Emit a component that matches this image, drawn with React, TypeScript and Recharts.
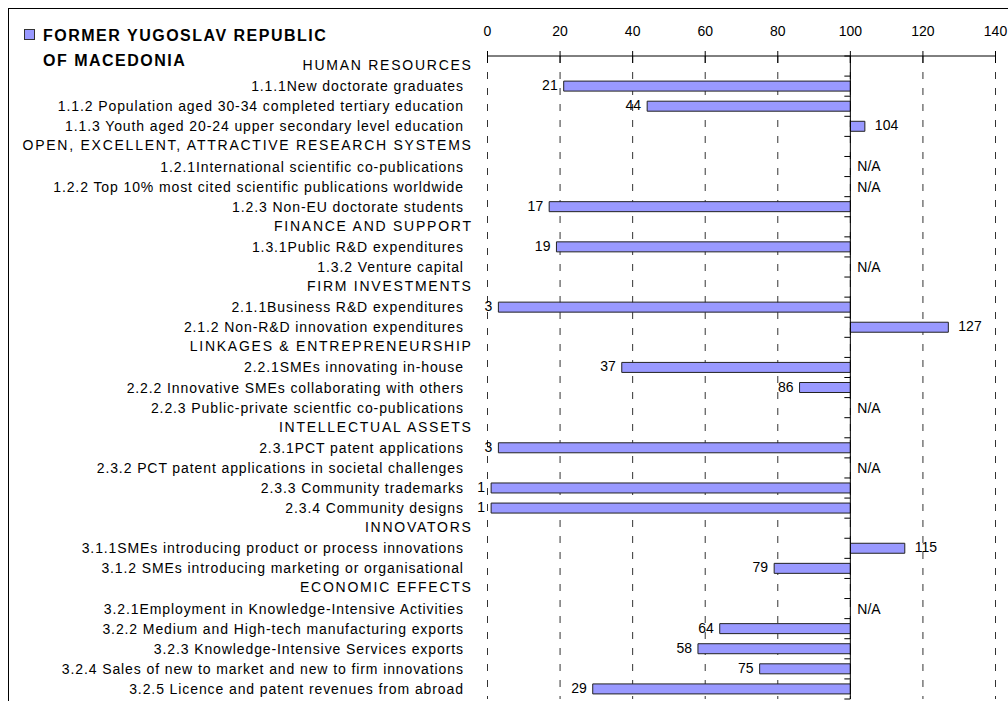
import { Bar, BarChart, CartesianGrid, LabelList, ReferenceDot, ReferenceLine, XAxis, YAxis } from 'recharts';

// country shown in the legend box (two lines, as in the original)
const countryLines = ['FORMER YUGOSLAV REPUBLIC', 'OF MACEDONIA'];

// section headers of the scoreboard
const headers = [
  'HUMAN RESOURCES',
  'OPEN, EXCELLENT, ATTRACTIVE RESEARCH SYSTEMS',
  'FINANCE AND SUPPORT',
  'FIRM INVESTMENTS',
  'LINKAGES & ENTREPRENEURSHIP',
  'INTELLECTUAL ASSETS',
  'INNOVATORS',
  'ECONOMIC EFFECTS',
];

// all rows top to bottom
const indicators = [
  'HUMAN RESOURCES',
  '1.1.1New doctorate graduates',
  '1.1.2 Population aged 30-34 completed tertiary education',
  '1.1.3 Youth aged 20-24 upper secondary level education',
  'OPEN, EXCELLENT, ATTRACTIVE RESEARCH SYSTEMS',
  '1.2.1International scientific co-publications',
  '1.2.2 Top 10% most cited scientific publications worldwide',
  '1.2.3 Non-EU doctorate students',
  'FINANCE AND SUPPORT',
  '1.3.1Public R&D expenditures',
  '1.3.2 Venture capital',
  'FIRM INVESTMENTS',
  '2.1.1Business R&D expenditures',
  '2.1.2 Non-R&D innovation expenditures',
  'LINKAGES & ENTREPRENEURSHIP',
  '2.2.1SMEs innovating in-house',
  '2.2.2 Innovative SMEs collaborating with others',
  '2.2.3 Public-private scientfic co-publications',
  'INTELLECTUAL ASSETS',
  '2.3.1PCT patent applications',
  '2.3.2 PCT patent applications in societal challenges',
  '2.3.3 Community trademarks',
  '2.3.4 Community designs',
  'INNOVATORS',
  '3.1.1SMEs introducing product or process innovations',
  '3.1.2 SMEs introducing marketing or organisational',
  'ECONOMIC EFFECTS',
  '3.2.1Employment in Knowledge-Intensive Activities',
  '3.2.2 Medium and High-tech manufacturing exports',
  '3.2.3 Knowledge-Intensive Services exports',
  '3.2.4 Sales of new to market and new to firm innovations',
  '3.2.5 Licence and patent revenues from abroad',
];

// relative to EU = 100; null on header rows and N/A rows
const scores: (number | null)[] = [
  null, 21, 44, 104,
  null, null, null, 17,
  null, 19, null,
  null, 3, 127,
  null, 37, 86, null,
  null, 3, null, 1, 1,
  null, 115, 79,
  null, null, 64, 58, 75, 29,
];

const xTicks = [0, 20, 40, 60, 80, 100, 120, 140];
const EU = 100;

const rows = indicators.map((name, i) => {
  const v = scores[i];
  return {
    name,
    score: v,
    range: v == null ? undefined : [Math.min(v, EU), Math.max(v, EU)],
  };
});
const naRows = indicators.filter((n, i) => scores[i] == null && !headers.includes(n));

const FONT = "'Liberation Sans', Arial, sans-serif";
const W = 999;
const H = 692;
const Y_W = 478.5;
const M_TOP = 17;
const X_H = 30;
const M_RIGHT = 12.5;
const M_BOTTOM = 2;
const PLOT_TOP = M_TOP + X_H;
const PLOT_W = W - Y_W - M_RIGHT;
const BAND = (H - PLOT_TOP - M_BOTTOM) / indicators.length;
const X_EU = Y_W + (EU / 140) * PLOT_W;

const TopTick = (p: any) => (
  <g>
    <line x1={p.x} x2={p.x} y1={PLOT_TOP - 5} y2={PLOT_TOP + 7} stroke="#000" />
    <text x={p.x} y={PLOT_TOP - 20} textAnchor="middle" fontSize={14} fontFamily={FONT} fill="#000">
      {p.payload.value}
    </text>
  </g>
);

const RowTick = (p: any) => {
  const label = p.payload.value;
  const header = headers.includes(label);
  const last = label === indicators[indicators.length - 1];
  return (
    <g>
      <text
        x={header ? 463.7 : 454.9}
        y={p.y + (header ? 4 : 5)}
        textAnchor="end"
        fontSize={14}
        letterSpacing={header ? 1.75 : 0.9}
        fontFamily={FONT}
        fill="#000"
      >
        {label}
      </text>
      <line x1={X_EU - 6} x2={X_EU} y1={p.y - BAND / 2} y2={p.y - BAND / 2} stroke="#000" />
      {last && <line x1={X_EU - 6} x2={X_EU} y1={p.y + BAND / 2} y2={p.y + BAND / 2} stroke="#000" />}
    </g>
  );
};

const ScoreLabel = (p: any) => {
  const { x, y, width, height, value } = p;
  if (typeof value !== 'number') return null;
  const below = value < EU;
  return (
    <text
      x={below ? x - 6 : x + width + 10}
      y={y + height / 2 + 4}
      textAnchor={below ? 'end' : 'start'}
      fontSize={14}
      fontFamily={FONT}
      fill="#000"
    >
      {value}
    </text>
  );
};

export default function App() {
  return (
    <div
      style={{
        position: 'absolute',
        left: 8,
        top: 8,
        width: 1000,
        height: 693,
        boxSizing: 'border-box',
        borderTop: '1px solid #000',
        borderLeft: '1px solid #000',
        background: '#fff',
      }}
    >
      <svg width={480} height={80} style={{ position: 'absolute', left: 0, top: 0 }}>
        <rect x={15.5} y={20.5} width={10} height={10} fill="#9999FF" stroke="#333" />
        {countryLines.map((t, i) => (
          <text key={t} x={34} y={32 + i * 25} fontSize={16} fontWeight="bold" letterSpacing={1.5} fontFamily={FONT} fill="#000">
            {t}
          </text>
        ))}
      </svg>
      <BarChart
        width={W}
        height={H}
        layout="vertical"
        data={rows}
        margin={{ top: M_TOP, right: M_RIGHT, bottom: M_BOTTOM, left: 0 }}
      >
        <CartesianGrid horizontal={false} stroke="#333" strokeDasharray="7 9" />
        <XAxis
          type="number"
          orientation="top"
          domain={[0, 140]}
          ticks={xTicks}
          height={X_H}
          interval={0}
          axisLine={{ stroke: '#000' }}
          tickLine={false}
          tick={TopTick}
        />
        <YAxis
          type="category"
          dataKey="name"
          width={Y_W}
          interval={0}
          axisLine={false}
          tickLine={false}
          tick={RowTick}
        />
        <ReferenceLine x={EU} stroke="#000" />
        <Bar
          dataKey="range"
          name={countryLines.join(' ')}
          fill="#9999FF"
          stroke="#222"
          strokeWidth={1}
          barSize={10}
          isAnimationActive={false}
        >
          <LabelList dataKey="score" content={ScoreLabel} />
        </Bar>
        {naRows.map((n) => (
          <ReferenceDot
            key={n}
            x={EU}
            y={n}
            r={0}
            fill="none"
            stroke="none"
            label={{ value: 'N/A', position: 'right', offset: 7, fontSize: 14, fontFamily: FONT, fill: '#000' }}
          />
        ))}
      </BarChart>
    </div>
  );
}
